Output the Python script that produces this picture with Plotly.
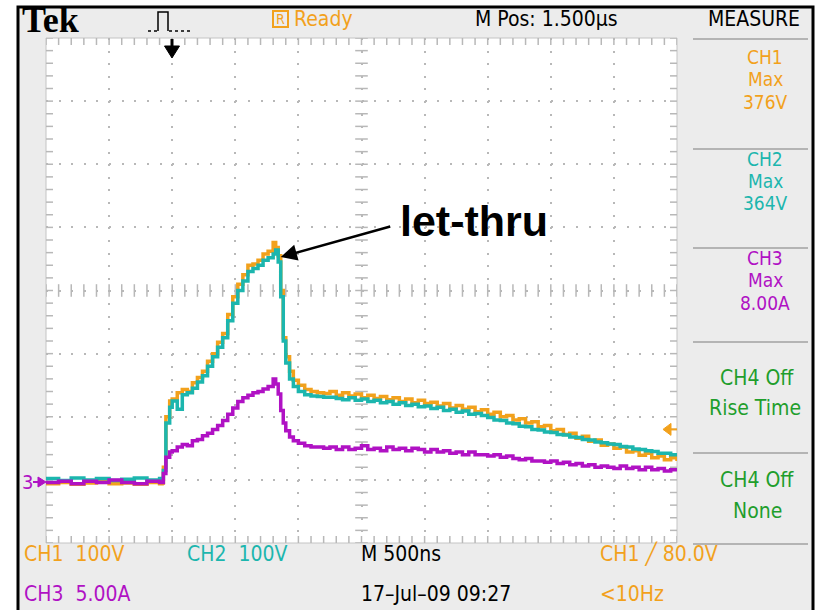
import numpy as np
import plotly.graph_objects as go

# ---- acquisition: 500 ns/div, 10 divisions, time in microseconds ----
time_us = [
    0.00, 0.10, 0.20, 0.30, 0.40, 0.50, 0.60, 0.70, 0.80, 0.90, 0.92,
    0.93, 0.95, 0.98, 1.00, 1.04, 1.08, 1.12, 1.16, 1.20, 1.24, 1.28, 1.32,
    1.36, 1.40, 1.44, 1.48, 1.52, 1.56, 1.60, 1.64, 1.68, 1.72, 1.76, 1.80, 1.82,
    1.84, 1.86, 1.88, 1.90, 1.93, 1.96, 2.00, 2.05, 2.10, 2.15, 2.20,
    2.25, 2.30, 2.35, 2.40, 2.45, 2.50, 2.55, 2.60, 2.65, 2.70, 2.75, 2.80,
    2.85, 2.90, 2.95, 3.00, 3.05, 3.10, 3.15, 3.20, 3.25, 3.30, 3.35, 3.40,
    3.45, 3.50, 3.55, 3.60, 3.65, 3.70, 3.75, 3.80, 3.85, 3.90, 3.95, 4.00,
    4.05, 4.10, 4.15, 4.20, 4.25, 4.30, 4.35, 4.40, 4.45, 4.50, 4.55, 4.60,
    4.65, 4.70, 4.75, 4.80, 4.85, 4.90, 4.95, 5.00,
]

# CH1 voltage (V)
ch1_volts = [
    -6, -4, -7, -5, -3, -6, -5, -7, -4, -6, -5,
    20, 100, 125, 128, 138, 143, 140, 154, 162, 172, 188, 200,
    218, 232, 262, 290, 310, 325, 340, 342, 348, 358, 362, 376, 368,
    355, 300, 225, 195, 172, 158, 150, 143, 140, 138, 137,
    140, 134, 138, 133, 136, 130, 134, 129, 132, 127, 130, 124,
    128, 122, 126, 121, 123, 117, 121, 114, 118, 112, 115, 108,
    111, 104, 107, 100, 102, 95, 97, 90, 92, 84, 86, 78,
    80, 72, 74, 66, 69, 61, 63, 55, 57, 50, 52, 44,
    46, 39, 42, 35, 38, 32, 35, 30,
]

# CH2 voltage (V)
ch2_volts = [
    2, -1, 3, 0, 2, -1, 1, 3, 0, 2, 1,
    15, 90, 115, 125, 112, 135, 138, 145, 155, 165, 180, 195,
    210, 225, 252, 280, 300, 315, 330, 335, 340, 348, 352, 358, 364,
    345, 290, 220, 185, 160, 148, 140, 135, 133, 132, 131,
    131, 129, 127, 130, 126, 128, 124, 126, 122, 124, 120, 122,
    118, 120, 116, 117, 113, 115, 110, 112, 107, 109, 104, 105,
    102, 99, 95, 94, 90, 89, 85, 84, 80, 79, 76, 75,
    72, 71, 68, 67, 64, 63, 60, 59, 57, 56, 53, 52,
    49, 48, 46, 45, 42, 42, 40, 39,
]

# CH3 current (A)
ch3_amps = [
    -0.2, -0.1, -0.3, -0.1, -0.2, 0.0, -0.2, -0.3, -0.1, -0.2, -0.2,
    0.5, 1.8, 2.2, 2.3, 2.6, 2.8, 2.7, 3.1, 3.2, 3.5, 3.7, 4.0,
    4.3, 4.7, 5.2, 5.7, 6.2, 6.5, 6.7, 6.9, 7.0, 7.2, 7.4, 8.0, 7.6,
    6.8, 5.5, 4.5, 3.9, 3.4, 3.1, 2.9, 2.7, 2.6, 2.6, 2.5,
    2.6, 2.4, 2.6, 2.4, 2.5, 2.7, 2.4, 2.5, 2.3, 2.6, 2.4, 2.5,
    2.3, 2.5, 2.4, 2.2, 2.4, 2.2, 2.3, 2.1, 2.2, 2.0, 2.2, 2.0,
    2.0, 1.9, 2.0, 1.8, 1.9, 1.7, 1.6, 1.7, 1.5, 1.5, 1.4, 1.5,
    1.3, 1.4, 1.2, 1.3, 1.1, 1.2, 1.0, 1.1, 1.0, 0.9, 1.1, 0.9,
    1.0, 0.8, 1.0, 0.8, 0.9, 0.7, 0.8, 0.7,
]

# Scope settings shown on screen
volts_per_div = 100        # CH1, CH2
amps_per_div = 5.0         # CH3
ground_div = -3            # ground reference, divisions from centre
trig_level_v = 80.0

measure_items = [
    ("CH1", "Max", "376V"),
    ("CH2", "Max", "364V"),
    ("CH3", "Max", "8.00A"),
]

ORANGE = "#f2a11c"
CYAN = "#1cb6ae"
MAGENTA = "#b012c4"
GREEN = "#1f9e2c"
GRID = "#b8b8b8"

W, H = 829, 610
L, T, R, B = 46, 38, 677, 543


def px(x):
    return (x - L) / (R - L)


def py(y):
    return (B - y) / (B - T)


def path(points, close=False):
    s = "M " + " L ".join(f"{px(x):.5f},{py(y):.5f}" for x, y in points)
    return s + (" Z" if close else "")


v_range = [(-4 - ground_div) * volts_per_div, (4 - ground_div) * volts_per_div]
a_range = [(-4 - ground_div) * amps_per_div, (4 - ground_div) * amps_per_div]

fig = go.Figure()

# graticule ticks on border and centre lines (1/5 division)
xt = np.round(np.arange(0, 5.0001, 0.1), 3)
yt = np.arange(v_range[0], v_range[1] + 0.1, volts_per_div / 5)
v_mid = (v_range[0] + v_range[1]) / 2
tick_style = dict(color=GRID, line=dict(color=GRID, width=1.5))
for yy, size in [(v_range[1], 10), (v_range[0], 10), (v_mid, 9)]:
    fig.add_trace(go.Scatter(x=xt, y=[yy] * len(xt), mode="markers",
                             marker=dict(symbol="line-ns", size=size, **tick_style),
                             hoverinfo="skip", showlegend=False))
for xx, size in [(0, 10), (5, 10), (2.5, 9)]:
    fig.add_trace(go.Scatter(x=[xx] * len(yt), y=yt, mode="markers",
                             marker=dict(symbol="line-ew", size=size, **tick_style),
                             hoverinfo="skip", showlegend=False))

# waveforms
fig.add_trace(go.Scatter(x=time_us, y=ch1_volts, mode="lines", line_shape="hv",
                         line=dict(color=ORANGE, width=3.5), name="CH1", showlegend=False))
fig.add_trace(go.Scatter(x=time_us, y=ch2_volts, mode="lines", line_shape="hv",
                         line=dict(color=CYAN, width=3.5), name="CH2", showlegend=False))
fig.add_trace(go.Scatter(x=time_us, y=ch3_amps, mode="lines", line_shape="hv", yaxis="y2",
                         line=dict(color=MAGENTA, width=3.5), name="CH3", showlegend=False))

SCOPE_FONT = "DejaVu Sans Condensed, Liberation Sans Narrow, Roboto, sans-serif"
annotations = []


def txt(x, y, s, color="black", size=21, anchor="left", family=SCOPE_FONT, bold=False):
    annotations.append(dict(
        x=px(x), y=py(y), xref="paper", yref="paper", text=f"<b>{s}</b>" if bold else s,
        showarrow=False, xanchor=anchor, yanchor="middle",
        font=dict(family=family, size=size, color=color)))


# top status bar
txt(20, 20, "Tek", size=36, family="Liberation Serif, DejaVu Serif, serif", bold=True)
txt(280.5, 19, "R", color=ORANGE, size=14, anchor="center")
txt(292, 19, "Ready", color=ORANGE, size=21)
txt(473, 19, "M Pos: 1.500\u00b5s", size=21)
txt(754, 19, "MEASURE", size=21, anchor="center")

# measurement panel
blocks_y = [(57, 79.5, 102), (158.5, 181, 203.5), (257.5, 280, 302.5)]
block_colors = [ORANGE, CYAN, MAGENTA]
for (a, b, c), ys, col in zip(measure_items, blocks_y, block_colors):
    for s, yy in zip((a, b, c), ys):
        txt(765, yy, s, color=col, size=19, anchor="center")
txt(757, 378, "CH4 Off", color=GREEN, anchor="center")
txt(755, 408, "Rise Time", color=GREEN, anchor="center")
txt(757, 480, "CH4 Off", color=GREEN, anchor="center")
txt(757, 511, "None", color=GREEN, anchor="center")

# bottom status bar
txt(22, 554, "CH1  100V", color=ORANGE)
txt(185, 554, "CH2  100V", color=CYAN)
txt(359, 554, "M 500ns")
txt(598, 554, "CH1 \u2571 80.0V", color=ORANGE)
txt(22, 594, "CH3  5.00A", color=MAGENTA)
txt(359, 594, "17\u2013Jul\u201309 09:27")
txt(598, 594, "&lt;10Hz", color=ORANGE)

# CH3 ground marker
txt(27, 482, "3", color=MAGENTA, size=20, anchor="center")

# let-thru callout
annotations.append(dict(
    x=1.86, y=353, xref="x", yref="y", ax=111, ay=-31, axref="pixel", ayref="pixel",
    text="", showarrow=True, arrowhead=2, arrowsize=1.3, arrowwidth=2.5, arrowcolor="black"))
txt(474, 221, "let-thru", size=43, anchor="center",
    family="Liberation Sans, Arial, sans-serif", bold=True)

shapes = [
    # screen frame
    dict(type="rect", xref="paper", yref="paper", x0=px(18), x1=px(813), y0=py(614), y1=py(7),
         fillcolor="#ececec", line=dict(color="black", width=3), layer="below"),
    # waveform area
    dict(type="rect", xref="paper", yref="paper", x0=0, x1=1, y0=0, y1=1,
         fillcolor="white", line=dict(color="#c4c4c4", width=1), layer="below"),
    # "R" box
    dict(type="rect", xref="paper", yref="paper", x0=px(273), x1=px(288), y0=py(27), y1=py(11),
         line=dict(color=ORANGE, width=2)),
    # trigger icon
    dict(type="path", xref="paper", yref="paper",
         path=path([(158, 31), (158, 12), (168, 12), (168, 31)]),
         line=dict(color="black", width=1.5)),
    dict(type="path", xref="paper", yref="paper",
         path=path([(148, 31), (157, 31)]), line=dict(color="black", width=1.5, dash="dot")),
    dict(type="path", xref="paper", yref="paper",
         path=path([(169, 31), (190, 31)]), line=dict(color="black", width=1.5, dash="dot")),
    # trigger position arrow
    dict(type="path", xref="paper", yref="paper", path=path([(172, 39), (172, 50)]),
         line=dict(color="black", width=3)),
    dict(type="path", xref="paper", yref="paper",
         path=path([(164.5, 46), (179.5, 46), (172, 58)], close=True),
         fillcolor="black", line=dict(color="black", width=1)),
    # CH3 ground arrow
    dict(type="path", xref="paper", yref="paper", path=path([(33, 482), (40, 482)]),
         line=dict(color=MAGENTA, width=2)),
    dict(type="path", xref="paper", yref="paper",
         path=path([(38, 477), (46, 482), (38, 487)], close=True),
         fillcolor=MAGENTA, line=dict(color=MAGENTA, width=1)),
]

# trigger level arrow on the right edge
trig_frac = (trig_level_v - v_range[0]) / (v_range[1] - v_range[0])
trig_py = B - trig_frac * (B - T)
shapes.append(dict(type="path", xref="paper", yref="paper",
                   path=path([(670, trig_py), (677, trig_py)]), line=dict(color=ORANGE, width=2)))
shapes.append(dict(type="path", xref="paper", yref="paper",
                   path=path([(663, trig_py), (671, trig_py - 6), (671, trig_py + 6)], close=True),
                   fillcolor=ORANGE, line=dict(color=ORANGE, width=1)))

# measurement panel separators
for yy in [39, 149, 248, 342, 453, 544]:
    shapes.append(dict(type="line", xref="paper", yref="paper", x0=px(693), x1=px(808),
                       y0=py(yy), y1=py(yy), line=dict(color="#b4b4b4", width=2)))

axis_common = dict(showticklabels=False, zeroline=False, ticks="", showline=False,
                   showgrid=True, gridcolor=GRID, gridwidth=1.5, griddash="2px,10.62px")

fig.update_layout(
    width=W, height=H, autosize=False,
    margin=dict(l=L, r=W - R, t=T, b=H - B, pad=0),
    paper_bgcolor="white", plot_bgcolor="rgba(0,0,0,0)",
    xaxis=dict(range=[0, 5], dtick=0.5, **axis_common),
    yaxis=dict(range=v_range, dtick=volts_per_div, **axis_common),
    yaxis2=dict(range=a_range, overlaying="y", visible=False),
    shapes=shapes, annotations=annotations,
)

fig.write_html("out.html")
